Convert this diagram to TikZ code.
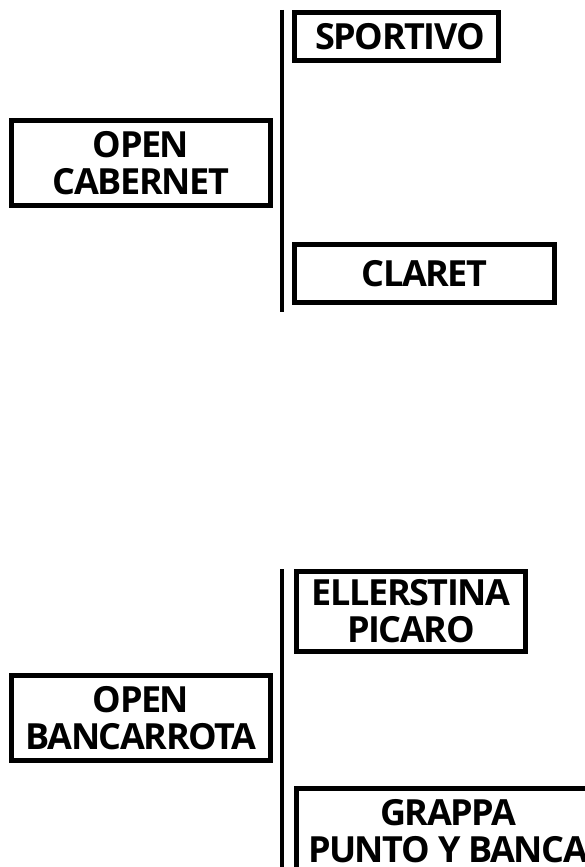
\documentclass[tikz,border=0pt]{standalone}
\usepackage{fontspec}
\setmainfont{Open Sans}[LetterSpace=-4]
\begin{document}
\begin{tikzpicture}[x=1pt,y=-1pt,
  box/.style={draw=black,line width=5pt,rectangle,inner sep=0pt,outer sep=0pt,
    align=center,font=\bfseries\fontsize{36}{37}\selectfont},
  bar/.style={draw=black,line width=4pt}]
\useasboundingbox (0,0) rectangle (585,867);
\clip (0,0) rectangle (585,867);
% top group
\node[box,minimum width=204pt,minimum height=48pt] (sportivo) at (396.5,36.5) {\hspace*{7pt}SPORTIVO};
\node[box,minimum width=259pt,minimum height=85pt] (cabernet) at (141,163) {OPEN\\CABERNET};
\node[box,minimum width=260pt,minimum height=58pt] (claret) at (424.5,273.5) {CLARET};
\coordinate (t1) at (282,10);
\coordinate (b1) at (282,312);
\draw[bar] (t1) -- (b1);
% bottom group
\node[box,minimum width=229pt,minimum height=80pt] (ellerstina) at (411,611.5) {ELLERSTINA\\PICARO};
\node[box,minimum width=259pt,minimum height=85pt] (bancarrota) at (141,718) {OPEN\\BANCARROTA};
\node[box,minimum width=303pt,minimum height=85pt] (grappa) at (448,831) {GRAPPA\\PUNTO Y BANCA};
\coordinate (t2) at (282,569);
\coordinate (b2) at (282,867);
\draw[bar] (t2) -- (b2);
\end{tikzpicture}
\end{document}
